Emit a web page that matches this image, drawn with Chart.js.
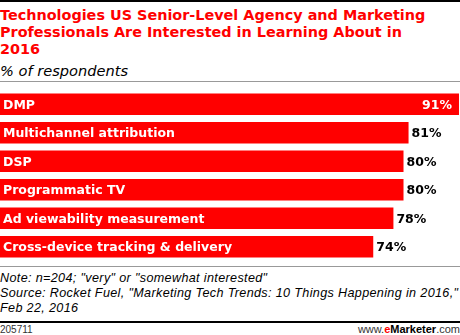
<!DOCTYPE html>
<html>
<head>
<meta charset="utf-8">
<script src="https://cdn.jsdelivr.net/npm/chart.js@4/dist/chart.umd.min.js"></script>
<style>
  html, body { margin: 0; padding: 0; background: #fff; }
  body { width: 460px; height: 335px; position: relative; overflow: hidden; font-family: "Liberation Sans", Arial, sans-serif; }
  .topline { position: absolute; left: 0; top: 0; width: 460px; height: 2px; background: #000; }
  .title { position: absolute; left: 0; top: 7px; width: 470px; color: #ff0000; font-family: "DejaVu Sans", sans-serif; font-weight: bold; font-size: 14.4px; line-height: 17px; letter-spacing: 0px; white-space: nowrap; }
  .subtitle { position: absolute; left: 0; top: 62px; font-family: "DejaVu Sans", sans-serif; font-style: italic; font-size: 14.6px; color: #000; }
  .grayline { position: absolute; left: 0; width: 460px; height: 1px; background: #999; }
  .chartbox { position: absolute; left: 0; top: 90px; width: 460px; height: 171px; }
  .note { position: absolute; left: 0; top: 271px; width: 480px; font-style: italic; font-size: 12.6px; line-height: 15px; letter-spacing: 0.35px; color: #000; white-space: nowrap; }
  .botline { position: absolute; left: 0; top: 321px; width: 460px; height: 2px; background: #000; }
  .id { position: absolute; left: 0; top: 324px; font-size: 10px; color: #333; }
  .brand { position: absolute; right: 0; top: 323px; font-size: 11px; color: #333; }
  .brand b { color: #000; }
  .brand .e { color: #ff0000; }
</style>
</head>
<body>
<div class="topline"></div>
<div class="title">Technologies US Senior-Level Agency and Marketing<br>Professionals Are Interested in Learning About in<br>2016</div>
<div class="subtitle">% of respondents</div>
<div class="grayline" style="top:81px"></div>
<div class="chartbox"><canvas id="bars"></canvas></div>
<div class="grayline" style="top:266px"></div>
<div class="note">Note: n=204; "very" or "somewhat interested"<br>Source: Rocket Fuel, "Marketing Tech Trends: 10 Things Happening in 2016,"<br>Feb 22, 2016</div>
<div class="botline"></div>
<div class="id">205711</div>
<div class="brand">www.<b class="e">e</b><b>Marketer</b>.com</div>

<script>
  "use strict";

  var categories = ["DMP", "Multichannel attribution", "DSP", "Programmatic TV", "Ad viewability measurement", "Cross-device tracking & delivery"];
  var values = [91, 81, 80, 80, 78, 74];

  var labelFont = 'bold 12.5px "DejaVu Sans", sans-serif';

  // Labels inside the bars and values at their ends
  var barLabels = {
    id: "barLabels",
    afterDatasetsDraw: function (chart) {
      var ctx = chart.ctx;
      var meta = chart.getDatasetMeta(0);
      var area = chart.chartArea;
      ctx.save();
      ctx.font = labelFont;
      ctx.textBaseline = "middle";
      meta.data.forEach(function (bar, i) {
        var y = bar.y + 1;
        ctx.fillStyle = "#fff";
        ctx.textAlign = "left";
        ctx.fillText(categories[i], bar.base + 3, y);
        var txt = values[i] + "%";
        var w = ctx.measureText(txt).width;
        if (bar.x + 3 + w > area.right) {
          ctx.textAlign = "right";
          ctx.fillStyle = "#fff";
          ctx.fillText(txt, bar.x - 7, y);
        } else {
          ctx.textAlign = "left";
          ctx.fillStyle = "#000";
          ctx.fillText(txt, bar.x + 3, y);
        }
      });
      ctx.restore();
    }
  };

  var ctx1 = document.getElementById("bars").getContext("2d");
  var myChart1 = new Chart(ctx1, {
    type: "bar",
    data: {
      labels: categories,
      datasets: [{
        data: values,
        backgroundColor: "#ff0000",
        borderWidth: 0,
        barPercentage: 0.76,
        categoryPercentage: 1
      }]
    },
    options: {
      indexAxis: "y",
      responsive: true,
      maintainAspectRatio: false,
      animation: false,
      layout: { padding: 0 },
      plugins: { legend: { display: false }, tooltip: { enabled: false } },
      scales: {
        x: { display: false, min: 0, max: 91.2 },
        y: { display: false }
      }
    },
    plugins: [barLabels]
  });
</script>
</body>
</html>
